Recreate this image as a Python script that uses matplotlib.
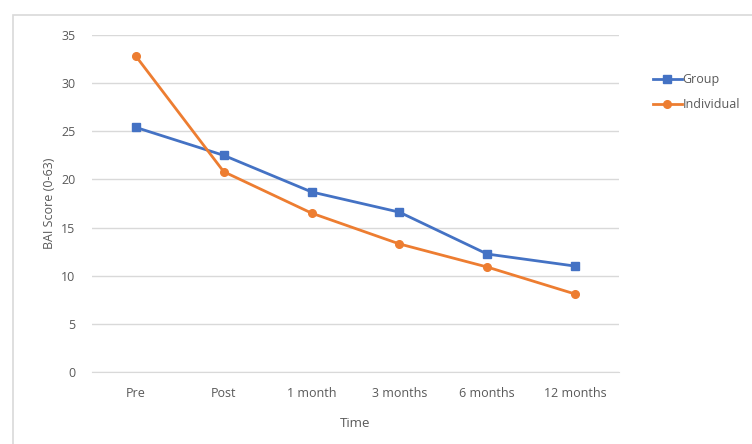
import matplotlib.pyplot as plt
from matplotlib.patches import Rectangle

# Datos
tiempos = ["Pre", "Post", "1 month", "3 months", "6 months", "12 months"]
grupo = [25.4, 22.5, 18.7, 16.6, 12.25, 11.0]
individual = [32.8, 20.8, 16.5, 13.3, 10.9, 8.1]

plt.rcParams['font.family'] = ['Open Sans', 'DejaVu Sans']
gris = '#595959'

fig = plt.figure(figsize=(7.52, 4.44), dpi=100)
fig.patches.append(Rectangle((13 / 752, -0.1), 1.0, (444 - 15) / 444 + 0.1,
                             transform=fig.transFigure, fill=False,
                             edgecolor='#d9d9d9', linewidth=1.2))

ax = fig.add_axes([92 / 752, 1 - 372 / 444, 527 / 752, 337 / 444])
x = range(len(tiempos))
ax.plot(x, grupo, color='#4472C4', linewidth=2.0, marker='s', markersize=5.5, label='Group')
ax.plot(x, individual, color='#ED7D31', linewidth=2.0, marker='o', markersize=5.5, label='Individual')

ax.set_xlim(-0.5, len(tiempos) - 0.5)
ax.set_ylim(0, 35)
ax.set_yticks(range(0, 36, 5))
ax.set_xticks(list(x))
ax.set_xticklabels(tiempos)
ax.grid(axis='y', color='#d9d9d9', linewidth=1)
ax.set_axisbelow(True)
for s in ['top', 'right', 'left']:
    ax.spines[s].set_visible(False)
ax.spines['bottom'].set_color('#d9d9d9')
ax.tick_params(length=0, labelsize=9, colors=gris, pad=11)
ax.tick_params(axis='y', pad=12)

ax.set_xlabel("Time", fontsize=9.5, color=gris, labelpad=12)
ax.set_ylabel("BAI Score (0-63)", fontsize=9, color=gris, labelpad=4)

ax.legend(loc='upper left', bbox_to_anchor=(648 / 752, 1 - 68 / 444),
          bbox_transform=fig.transFigure, frameon=False, fontsize=9,
          handlelength=2.3, handletextpad=0.05, labelspacing=1.0,
          labelcolor=gris, borderaxespad=0)

fig.savefig("out.png", dpi=100)
